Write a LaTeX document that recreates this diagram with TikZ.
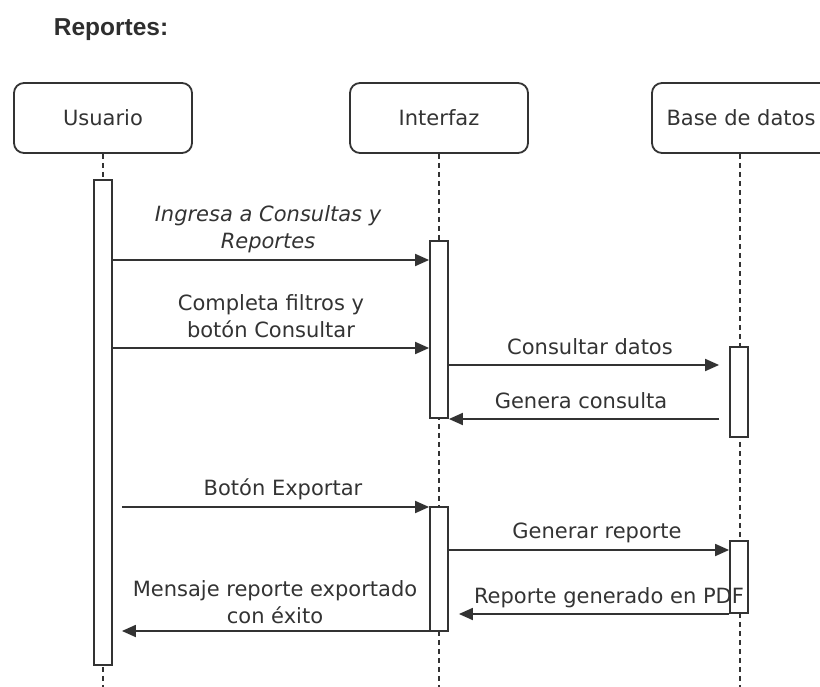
\documentclass[tikz,border=0pt]{standalone}
\usepackage{fontspec}
\setmainfont{DejaVu Sans}
\newfontfamily\headfont{Liberation Sans}
\usetikzlibrary{arrows.meta}
\definecolor{ink}{HTML}{333333}

\begin{document}
\begin{tikzpicture}[x=1pt,y=-1pt,
  every node/.style={font=\fontsize{21}{27}\selectfont, text=ink},
  actor/.style={draw=ink, line width=1.8pt, rounded corners=10pt,
    minimum width=178pt, minimum height=70pt, inner sep=0pt},
  lifeline/.style={draw=ink, line width=1.4pt, dash pattern=on 5pt off 4pt},
  act/.style={draw=ink, fill=white, line width=1.8pt, minimum width=18pt, inner sep=0pt},
  msg/.style={draw=ink, line width=1.8pt, -{Triangle[length=14pt,width=12pt]}},
  lbl/.style={align=center, inner sep=0pt}
]
\useasboundingbox (0,0) rectangle (820,687);
\clip (0,0) rectangle (820,687);

% title
\node[font=\headfont\bfseries\fontsize{24.5}{28}\selectfont, text=ink!90!black] (title) at (111,30) {Reportes:};

% participants
\node[actor] (usr) at (103,118) {Usuario};
\node[actor] (ifz) at (439,118) {Interfaz};
\node[actor] (bd)  at (741,118) {Base de datos};

% lifeline ends
\coordinate (usrEnd) at (103,690);
\coordinate (ifzEnd) at (439,690);
\coordinate (bdEnd)  at (740,690);
\draw[lifeline] (usr.south) -- (usrEnd);
\draw[lifeline] (ifz.south) -- (ifzEnd);
\draw[lifeline] (bd.south -| bdEnd) -- (bdEnd);

% activation bars
\node[act, minimum height=485pt] (usrA)  at (103,422.5) {};
\node[act, minimum height=177pt] (ifzA1) at (439,329.5) {};
\node[act, minimum height=124pt] (ifzA2) at (439,569) {};
\node[act, minimum height=90pt]  (bdA1)  at (739,392) {};
\node[act, minimum height=72pt]  (bdA2)  at (739,577) {};

% messages
\draw[msg] (usrA.east |- 0,260) -- (ifzA1.west |- 0,260);
\node[lbl, font=\itshape\fontsize{21}{27}\selectfont] (m1) at (268,229)
  {Ingresa a Consultas y\\Reportes};

\draw[msg] (usrA.east |- 0,348) -- (ifzA1.west |- 0,348);
\node[lbl] (m2) at (271,316) {Completa filtros y\\botón Consultar};

\draw[msg] (ifzA1.east |- 0,365) -- ([xshift=-10pt]bdA1.west |- 0,365);
\node[lbl] (m3) at (590,347) {Consultar datos};

\draw[msg] ([xshift=-10pt]bdA1.west |- 0,419) -- (ifzA1.east |- 0,419);
\node[lbl] (m4) at (581,401) {Genera consulta};

\draw[msg] ([xshift=9pt]usrA.east |- 0,507) -- (ifzA2.west |- 0,507);
\node[lbl] (m5) at (283,489) {Botón Exportar};

\draw[msg] (ifzA2.east |- 0,550) -- (bdA2.west |- 0,550);
\node[lbl] (m6) at (597,533) {Generar reporte};

\draw[msg] (bdA2.west |- 0,614) -- ([xshift=10pt]ifzA2.east |- 0,614);
\node[lbl] (m7) at (609,598) {Reporte generado en PDF};

\draw[msg] (ifzA2.west |- 0,631) -- ([xshift=9pt]usrA.east |- 0,631);
\node[lbl] (m8) at (275,602) {Mensaje reporte exportado\\con éxito};
\end{tikzpicture}
\end{document}
